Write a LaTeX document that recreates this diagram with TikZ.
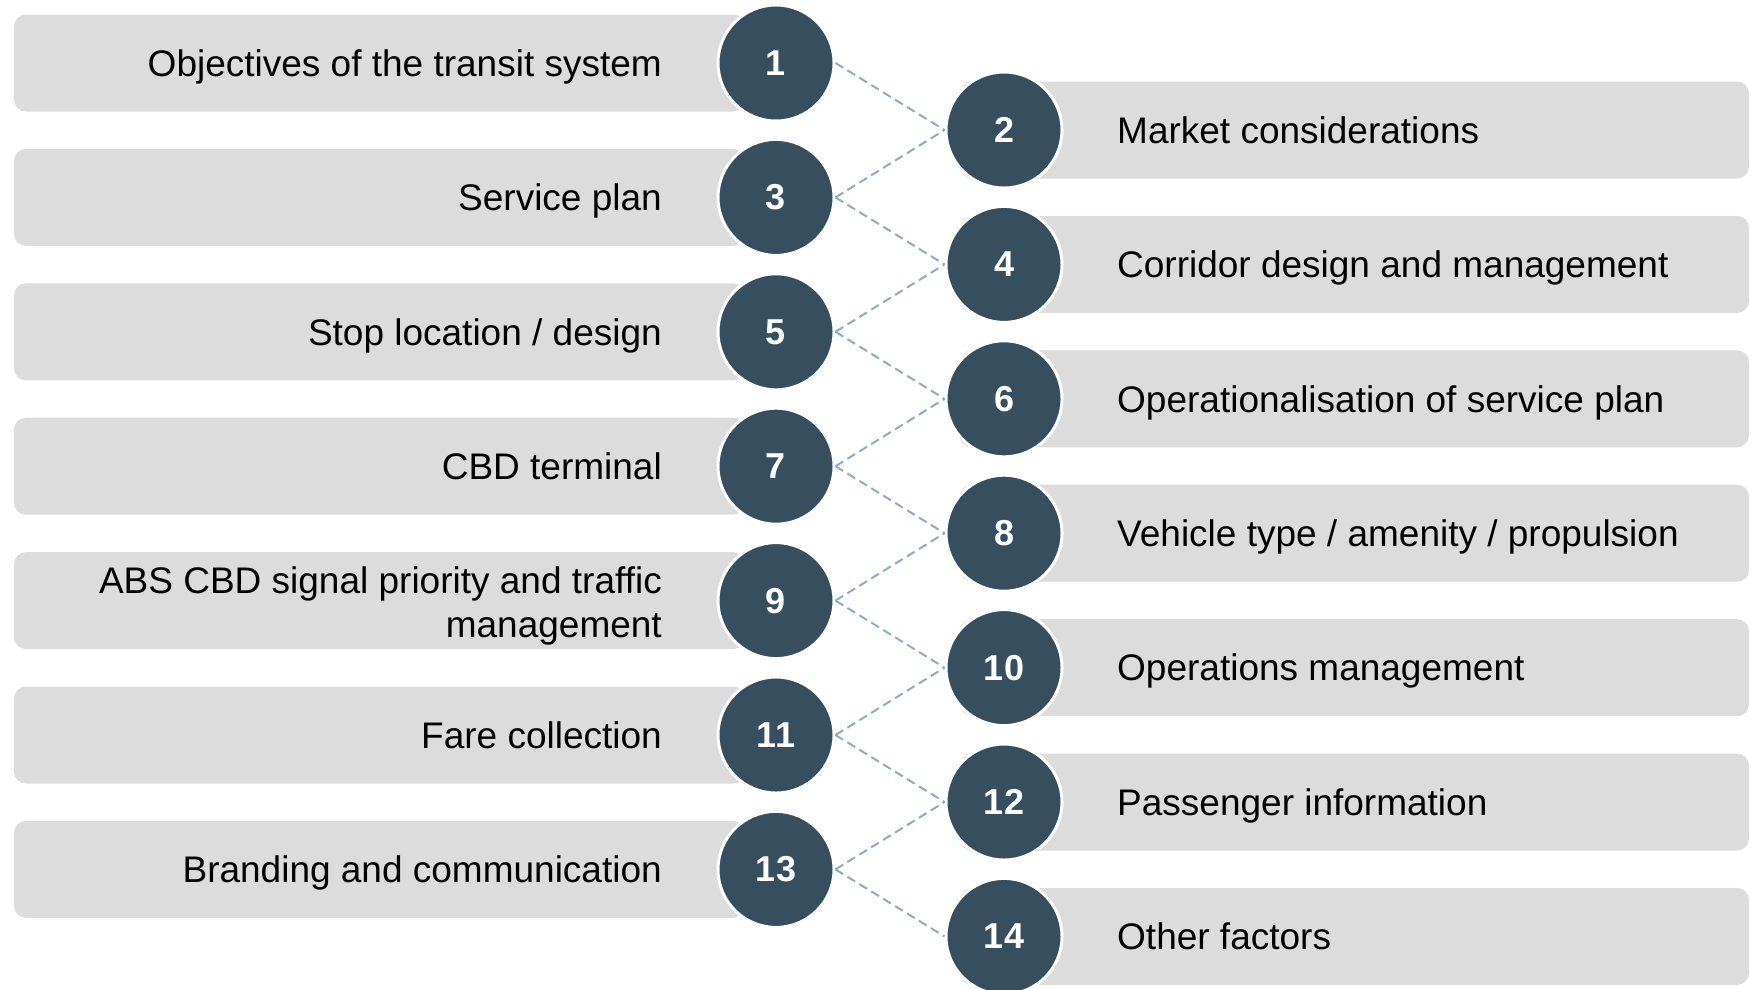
\documentclass[tikz,border=0pt]{standalone}
\usepackage{fontspec}
\setmainfont{Liberation Sans}
\definecolor{circ}{RGB}{54,78,94}
\definecolor{boxg}{RGB}{220,220,220}
\definecolor{dashc}{RGB}{140,172,194}
\begin{document}
\begin{tikzpicture}[x=1pt,y=-1pt,
  bar/.style={fill=boxg, rounded corners=12pt},
  num/.style={circle, fill=circ, draw=white, line width=3pt, minimum size=116pt, inner sep=0pt, text=white, font=\fontsize{36}{40}\selectfont\bfseries},
  lab/.style={font=\fontsize{37}{44}\selectfont, inner sep=0pt},
  llab/.style={lab, anchor=base east, align=right},
  rlab/.style={lab, anchor=base west, align=left},
  link/.style={draw=dashc, line width=2pt, dash pattern=on 9pt off 5pt}]
\useasboundingbox (0,0) rectangle (1751,989);
\clip (0,0) rectangle (1751,989);
% left bars
\foreach \i in {0,...,6}{
  \pgfmathsetmacro{\yy}{63+134.4*\i}
  \fill[bar] (14,\yy-48.5) rectangle (745,\yy+48.5);
}
% right bars
\foreach \i in {0,...,6}{
  \pgfmathsetmacro{\yy}{130+134.4*\i}
  \fill[bar] (960,\yy-48.5) rectangle (1749,\yy+48.5);
}
% circles
\node[num] (c1)  at (776,63.0)  {1};
\node[num] (c3)  at (776,197.4) {3};
\node[num] (c5)  at (776,331.8) {5};
\node[num] (c7)  at (776,466.2) {7};
\node[num] (c9)  at (776,600.6) {9};
\node[num] (c11) at (776,735.0) {11};
\node[num] (c13) at (776,869.4) {13};
\node[num] (c2)  at (1004,130.0) {2};
\node[num] (c4)  at (1004,264.4) {4};
\node[num] (c6)  at (1004,398.8) {6};
\node[num] (c8)  at (1004,533.2) {8};
\node[num] (c10) at (1004,667.6) {10};
\node[num] (c12) at (1004,802.0) {12};
\node[num] (c14) at (1004,936.4) {14};
% links
\foreach \a/\b in {c1/c2,c3/c2,c3/c4,c5/c4,c5/c6,c7/c6,c7/c8,c9/c8,c9/c10,c11/c10,c11/c12,c13/c12,c13/c14}
  \draw[link] (\a.east) -- (\b.west);
% left labels
\node[llab] (t1)  at (662,76.3)  {Objectives of the transit system};
\node[llab] (t3)  at (662,210.7) {Service plan};
\node[llab] (t5)  at (662,345.1) {Stop location / design};
\node[llab] (t7)  at (662,479.5) {CBD terminal};
\node[lab, anchor=north east, align=right, text height=26.6pt] (t9) at (662,610.4) {ABS CBD signal priority and traffic\\management};
\node[llab] (t11) at (662,748.3) {Fare collection};
\node[llab] (t13) at (662,882.7) {Branding and communication};
% right labels
\node[rlab] (t2)  at (1117,143.3) {Market considerations};
\node[rlab] (t4)  at (1117,277.7) {Corridor design and management};
\node[rlab] (t6)  at (1117,412.1) {Operationalisation of service plan};
\node[rlab] (t8)  at (1117,546.5) {Vehicle type / amenity / propulsion};
\node[rlab] (t10) at (1117,680.9) {Operations management};
\node[rlab] (t12) at (1117,815.3) {Passenger information};
\node[rlab] (t14) at (1117,949.7) {Other factors};
\end{tikzpicture}
\end{document}
